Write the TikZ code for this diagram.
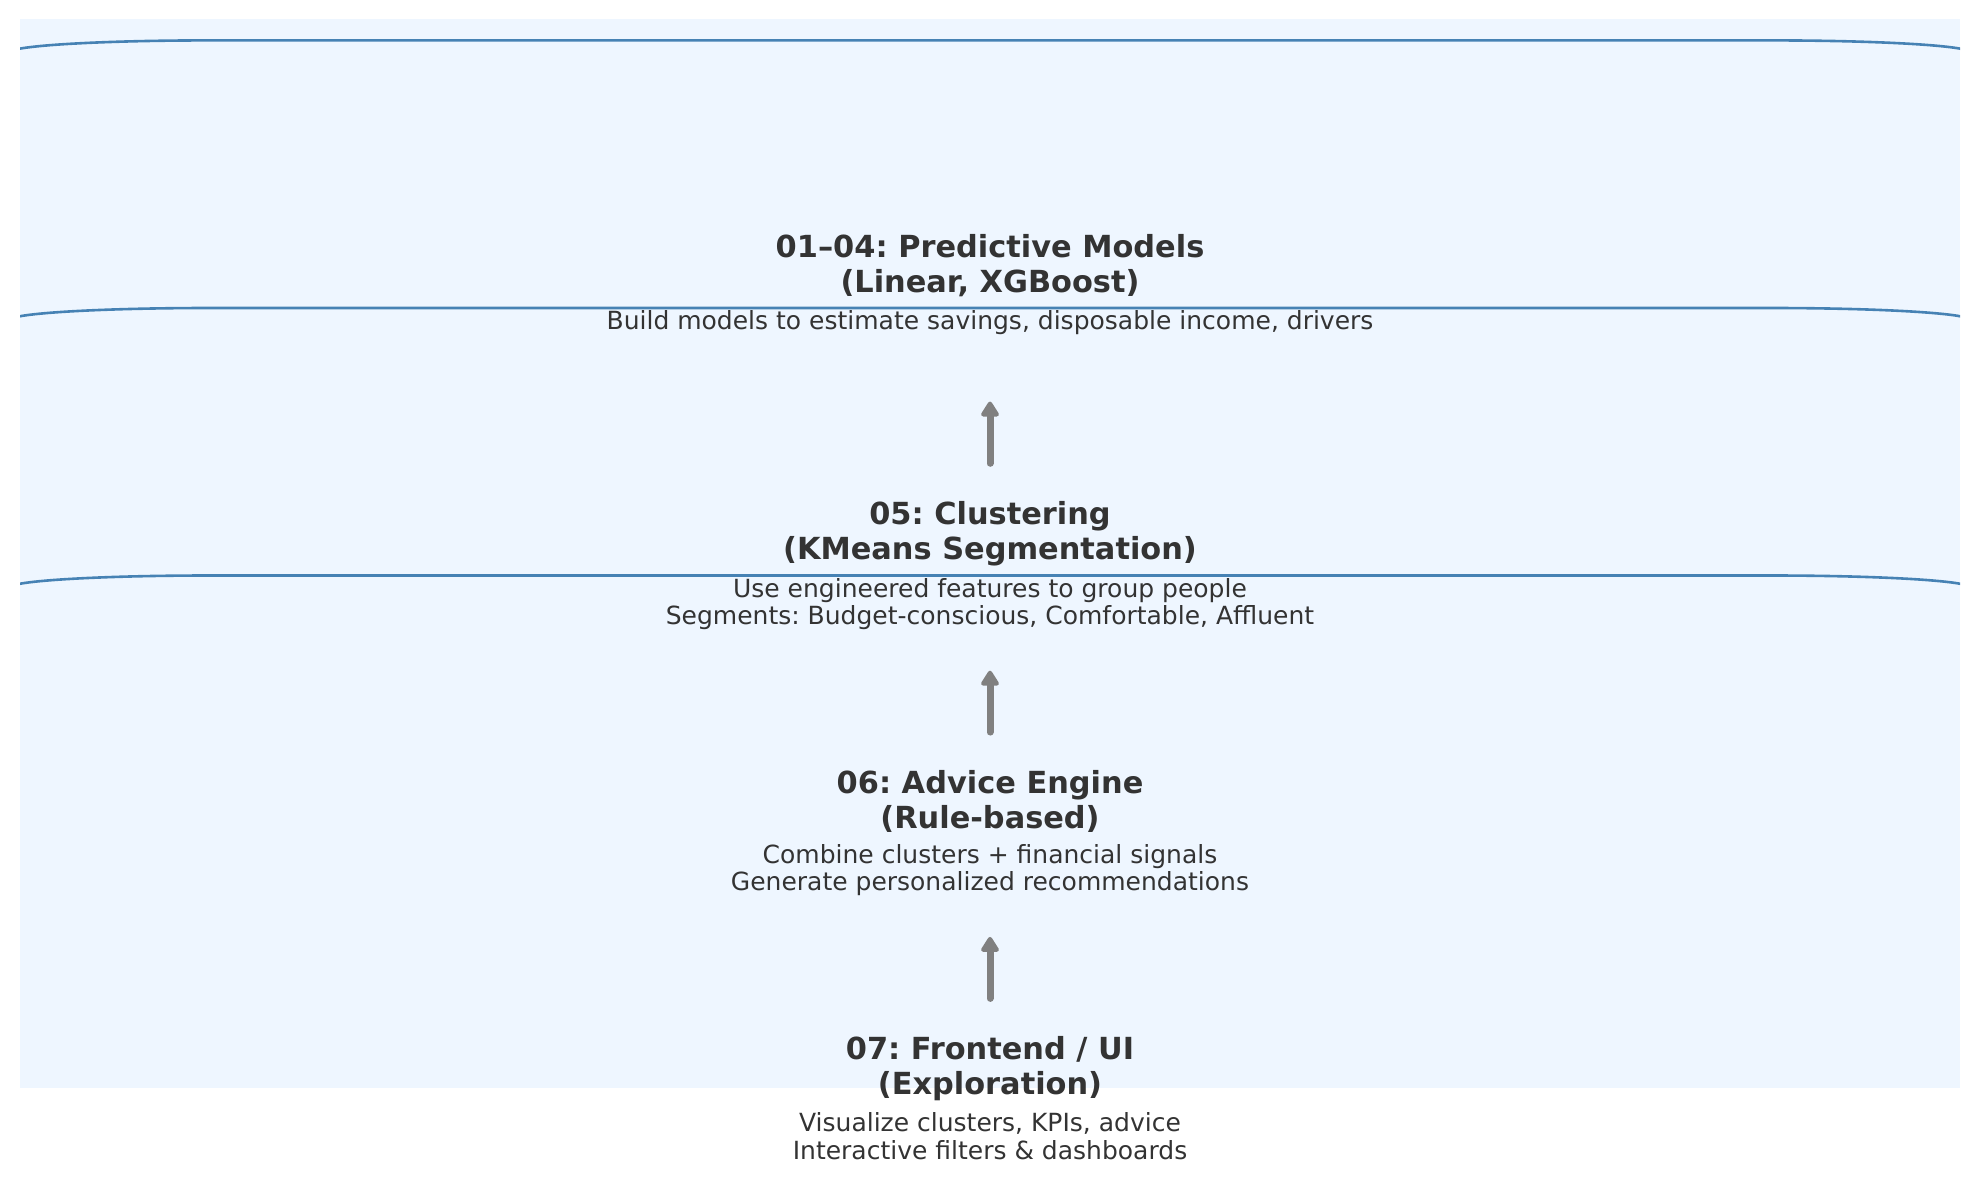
\documentclass[tikz,border=0pt]{standalone}
\usepackage{fontspec}
\setmainfont{DejaVu Sans}
\frenchspacing
\usetikzlibrary{positioning,arrows.meta}
\definecolor{nenxanh}{HTML}{EEF6FF}
\definecolor{vienxanh}{HTML}{4682B4}
\definecolor{chu}{HTML}{333333}
\definecolor{muiten}{HTML}{808080}
\tikzset{every picture/.style={line width=0.75pt}}

\begin{document}
\begin{tikzpicture}[x=1pt,y=-1pt,
	title/.style={align=center,inner sep=0pt,text=chu,font=\fontsize{30.4}{35}\selectfont\bfseries},
	desc/.style={align=center,inner sep=0pt,text=chu,font=\fontsize{25}{27.5}\selectfont},
	stagerule/.style={draw=vienxanh,line width=2.6pt},
	flow/.style={draw=muiten,line width=7pt,line cap=round,-{Triangle[length=17pt,width=20pt,round]}}]
	\useasboundingbox (0,0) rectangle (1979,1182);
	%Nen
	\fill[nenxanh] (20,19) rectangle (1960,1088);
	%Vien cac khung
	\begin{scope}
		\clip (20,19) rectangle (1960,1088);
		\foreach \y in {40.4,308,575.5}
			\draw[stagerule] (10,\y+12) arc[start angle=180,end angle=270,x radius=200,y radius=12]
				-- (1770,\y) arc[start angle=270,end angle=360,x radius=200,y radius=12];
	\end{scope}
	%Buoc 1
	\node[title] (title1) at (990,266) {01–04: Predictive Models\\(Linear, XGBoost)};
	\node[desc,below=12.5pt of title1] (desc1) {Build models to estimate savings, disposable income, drivers};
	%Buoc 2
	\node[title] (title2) at (990,534) {05: Clustering\\(KMeans Segmentation)};
	\node[desc,below=11pt of title2] (desc2) {Use engineered features to group people\\Segments: Budget-conscious, Comfortable, Affluent};
	%Buoc 3
	\node[title] (title3) at (990,801.5) {06: Advice Engine\\(Rule-based)};
	\node[desc,below=11pt of title3] (desc3) {Combine clusters + financial signals\\Generate personalized recommendations};
	%Buoc 4
	\node[title] (title4) at (990,1069) {07: Frontend / UI\\(Exploration)};
	\node[desc,below=11pt of title4] (desc4) {Visualize clusters, KPIs, advice\\Interactive filters \& dashboards};
	%Mui ten
	\foreach \a/\b in {title2/title1,title3/title2,title4/title3}
		\draw[flow,shorten <=38pt,shorten >=104pt] (\a.north) -- (\b.south);
\end{tikzpicture}
\end{document}
